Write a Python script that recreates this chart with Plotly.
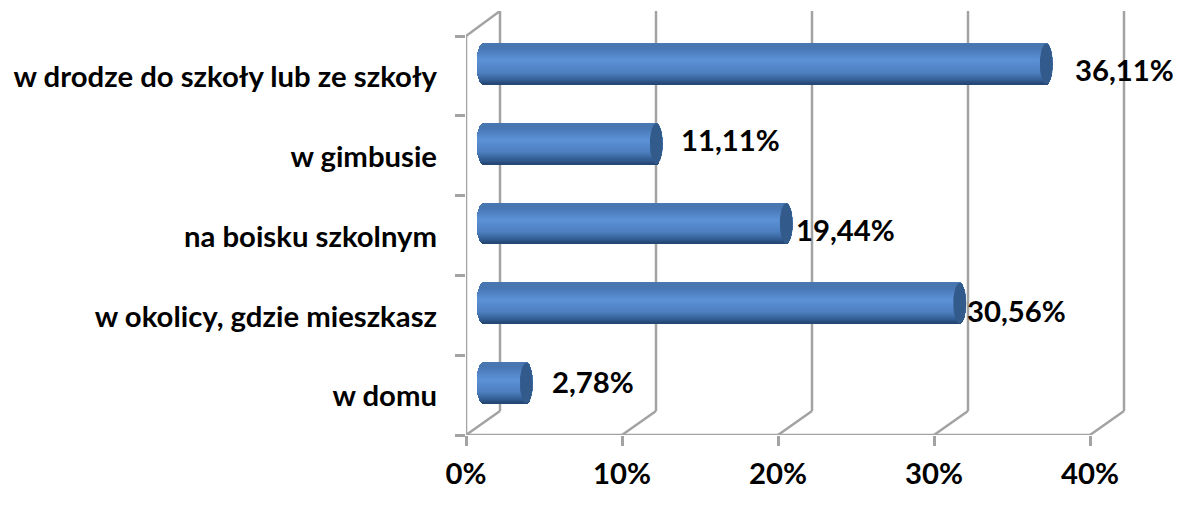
import math
import plotly.graph_objects as go

categories = ["w domu", "w okolicy, gdzie mieszkasz", "na boisku szkolnym", "w gimbusie", "w drodze do szkoły lub ze szkoły"]
values = [2.78, 30.56, 19.44, 11.11, 36.11]
value_labels = ["2,78%", "30,56%", "19,44%", "11,11%", "36,11%"]
label_xshift = [17, -1, 1, 16, 20]
label_yshift = [2, -7, -6, 4, -6]
x_ticks = [0, 10, 20, 30, 40]

PAGE = 8  # page margin around the figure
W, H = 1184 - 2 * PAGE, 507 - 2 * PAGE
L, R, T, B = 466 - PAGE, 1126 - PAGE, 11 - PAGE, 435 - PAGE
px_x = 15.6
px_y = 79.8
x_max = (R - L) / px_x
y_max = (B - T) / px_y
dep_x = 34 / px_x
dep_y = 24 / px_y
cap = 6.5 / px_x
bar_h = 0.51
GRID = "#a3a3a3"
FONT = "Lato"
FS = 29.3
TEXT = "#000000"

def lerp(a, b, f):
    return tuple(a[i] + (b[i] - a[i]) * f for i in range(3))

stops = [(0.0, (74, 120, 176)), (0.12, (72, 118, 178)), (0.42, (92, 146, 216)),
         (0.72, (78, 128, 192)), (0.9, (52, 95, 150)), (1.0, (36, 70, 112))]

def shade(f):
    for (f0, c0), (f1, c1) in zip(stops, stops[1:]):
        if f <= f1:
            c = lerp(c0, c1, (f - f0) / (f1 - f0))
            return "rgb(%d,%d,%d)" % c
    return "rgb(36,70,112)"

fig = go.Figure()
centres = [i + 0.5 + dep_y / 2 for i in range(len(values))]
n = 40
step = bar_h / n
for k in range(n):
    f = (k + 0.5) / n
    t = 2 * f - 1
    s = math.sqrt(max(0, 1 - t * t))
    left = dep_x / 2 - cap * s
    fig.add_trace(go.Bar(
        orientation="h",
        y=centres,
        x=[v + 2 * cap * s for v in values],
        base=left,
        offset=bar_h / 2 - (k + 1) * step,
        width=step * 1.15,
        marker=dict(color=shade(f), line=dict(width=0)),
        hoverinfo="skip",
        showlegend=False,
    ))

# dark end caps of the cylinders
for v, c in zip(values, centres):
    ang = [2 * math.pi * i / 60 for i in range(61)]
    fig.add_trace(go.Scatter(
        x=[v + dep_x / 2 + cap * math.cos(a) for a in ang],
        y=[c + bar_h / 2 * math.sin(a) for a in ang],
        mode="lines",
        fill="toself",
        fillcolor="#325b8c",
        line=dict(width=0, color="#325b8c"),
        hoverinfo="skip",
        showlegend=False,
    ))

shapes = []
def seg(x0, y0, x1, y1):
    shapes.append(dict(type="line", xref="x", yref="y", x0=x0, y0=y0, x1=x1, y1=y1,
                       layer="below", line=dict(color=GRID, width=2.5)))

for v in x_ticks:
    seg(v, 0, v + dep_x, dep_y)
    seg(v + dep_x, dep_y, v + dep_x, y_max)
n_c = len(categories)
seg(0, n_c, dep_x, y_max)
seg(0, 0, x_ticks[-1], 0)
seg(0, 0, 0, n_c)

annotations = []
for v, c, txt, xs, ys in zip(values, centres, value_labels, label_xshift, label_yshift):
    annotations.append(dict(
        x=v + dep_x / 2 + cap, y=c, xref="x", yref="y", text="<b>%s</b>" % txt,
        showarrow=False, xanchor="left", yanchor="middle", xshift=xs, yshift=ys,
        font=dict(family=FONT, size=FS, color=TEXT),
    ))

fig.update_layout(
    width=W, height=H,
    autosize=False,
    margin=dict(l=L, r=W - R, t=T, b=H - B, pad=0),
    paper_bgcolor="white",
    plot_bgcolor="white",
    barmode="overlay",
    bargap=0,
    shapes=shapes,
    annotations=annotations,
    showlegend=False,
    xaxis=dict(
        range=[0, x_max], tickmode="array", tickvals=x_ticks,
        ticktext=["<b>%d%%</b>" % v for v in x_ticks],
        ticks="outside", ticklen=10, tickwidth=2.5, tickcolor=GRID,
        ticklabelstandoff=3,
        showgrid=False, zeroline=False, showline=False,
        tickfont=dict(family=FONT, size=FS, color=TEXT),
        fixedrange=True,
    ),
    yaxis=dict(
        range=[0, y_max], tickmode="array",
        tickvals=[i + 0.5 for i in range(n_c)],
        ticktext=["<b>%s</b>" % c for c in categories],
        ticks="", ticklabelstandoff=28, ticklabelshift=1,
        showgrid=False, zeroline=False, showline=False,
        tickfont=dict(family=FONT, size=FS, color=TEXT),
        minor=dict(tickmode="array", tickvals=list(range(n_c + 1)), ticks="outside",
                   ticklen=10, tickwidth=2.5, tickcolor=GRID, showgrid=False),
        fixedrange=True,
    ),
)

fig.write_html("out.html", config=dict(displayModeBar=False))
